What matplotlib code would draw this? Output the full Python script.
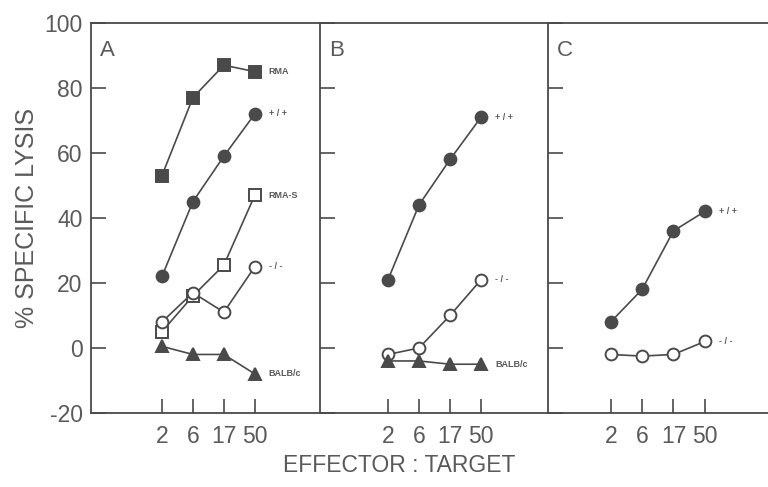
import matplotlib.pyplot as plt

ratios = ["2", "6", "17", "50"]
xpos = [0, 1, 2, 3]

# panel A
a_rma = [53, 77, 87, 85]
a_wt = [22, 45, 59, 72]
a_rmas = [5, 16, 25.5, 47]
a_ko = [8, 17, 11, 25]
a_balb = [0.5, -2, -2, -8]

# panel B
b_wt = [21, 44, 58, 71]
b_ko = [-2, 0, 10, 21]
b_balb = [-4, -4, -5, -5]

# panel C
c_wt = [8, 18, 36, 42]
c_ko = [-2, -2.5, -2, 2]

ink = "#4a4a4a"
txt = "#5a5a5a"
plt.rcParams['font.family'] = ['Liberation Sans', 'DejaVu Sans']
plt.rcParams['axes.unicode_minus'] = False

fig = plt.figure(figsize=(7.68, 4.87), dpi=100)
bottom, height = 0.152, 0.801
boxes = [(0.1185, 0.298, -2.29, 5.1),
         (0.4167, 0.297, -2.19, 5.16),
         (0.7135, 0.29, -2.0, 5.1)]
axes = []
for left, width, x0, x1 in boxes:
    ax = fig.add_axes([left, bottom, width, height])
    ax.set_xlim(x0, x1)
    ax.set_ylim(-20, 100)
    ax.set_xticks(xpos)
    ax.set_xticklabels(ratios)
    ax.set_yticks(range(-20, 101, 20))
    ax.tick_params(direction='in', length=10, width=1.2, color=ink,
                   labelcolor=txt, labelsize=16.5, pad=9)
    ax.tick_params(axis='y', length=11, pad=6)
    for s in ax.spines.values():
        s.set_color(ink)
        s.set_linewidth(1.3)
    ax.spines['right'].set_visible(False)
    axes.append(ax)

for ax in axes[1:]:
    ax.set_yticklabels([])

def series(ax, ys, marker, filled, label, dy=0):
    ax.plot(xpos, ys, color=ink, lw=1.2, marker=marker, ms=8.5,
            mfc=ink if filled else 'white', mec=ink, mew=1.4, clip_on=False)
    ax.text(xpos[-1] + 0.45, ys[-1] + dy, label, fontsize=6.5, color=txt,
            fontweight='bold', va='center', ha='left')

ax = axes[0]
series(ax, a_rma, 's', True, "RMA")
series(ax, a_wt, 'o', True, "+ / +")
series(ax, a_rmas, 's', False, "RMA-S")
series(ax, a_ko, 'o', False, "- / -")
series(ax, a_balb, '^', True, "BALB/c")

ax = axes[1]
series(ax, b_wt, 'o', True, "+ / +")
series(ax, b_ko, 'o', False, "- / -")
series(ax, b_balb, '^', True, "BALB/c")

ax = axes[2]
series(ax, c_wt, 'o', True, "+ / +")
series(ax, c_ko, 'o', False, "- / -")

for ax, letter in zip(axes, "ABC"):
    ax.text(0.04, 0.955, letter, transform=ax.transAxes, fontsize=16,
            color=txt, va='top', ha='left')

axes[0].set_ylabel("% SPECIFIC LYSIS", fontsize=18, color=txt, labelpad=4)
fig.text(0.52, 0.03, "EFFECTOR : TARGET", fontsize=16.5, color=txt, ha='center')

fig.savefig("out.png", dpi=100)
